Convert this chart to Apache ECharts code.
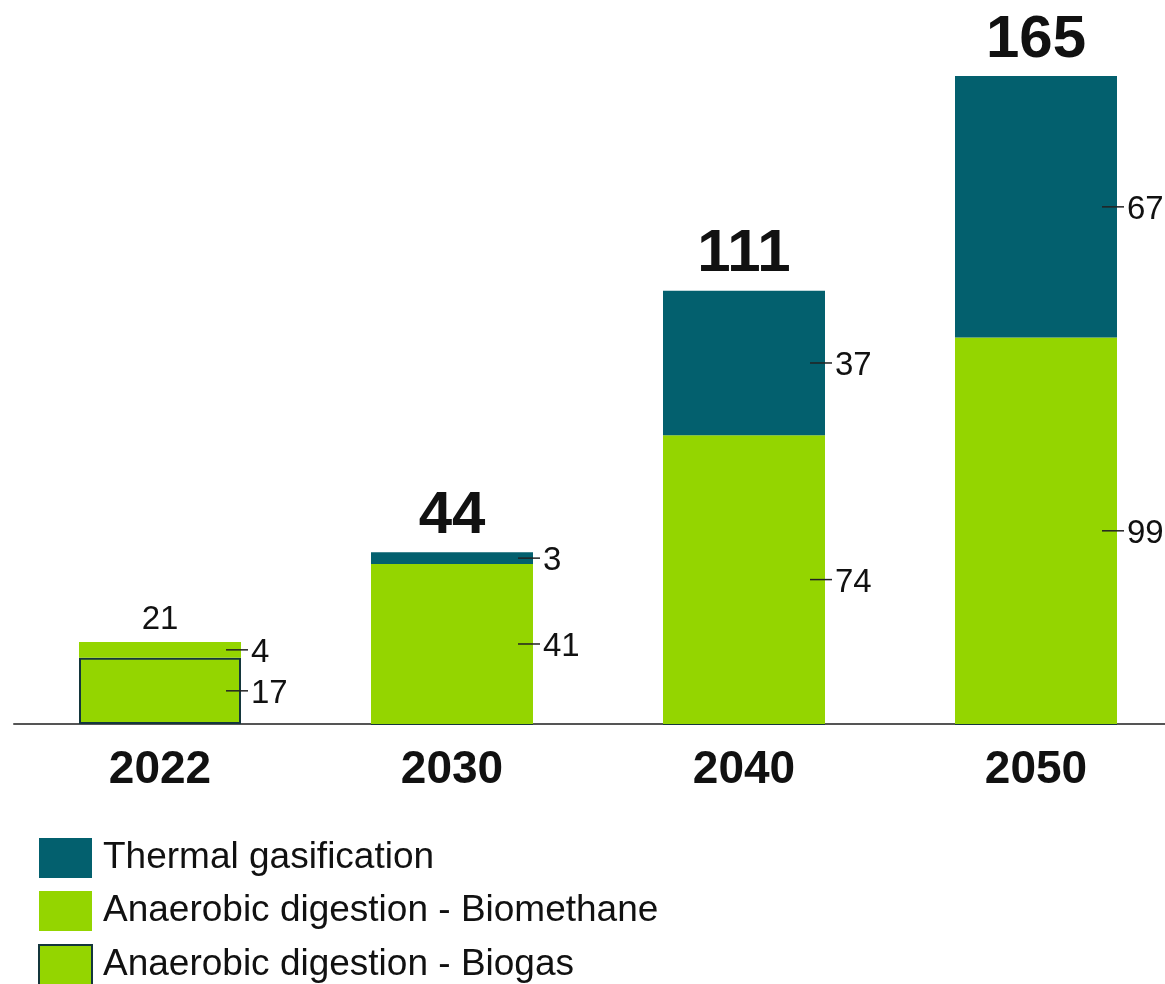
<!DOCTYPE html>
<html>
<head>
<meta charset="utf-8">
<script src="https://cdn.jsdelivr.net/npm/echarts@6/dist/echarts.min.js"></script>
<style>
html,body{margin:0;padding:0;background:#fff;overflow:hidden;}
#chart{width:1182px;height:984px;}
</style>
</head>
<body>
<div id="chart"></div>
<script>
const categories = ['2022', '2030', '2040', '2050'];
const biogas = [17, 0, 0, 0];
const biomethane = [4, 41, 74, 99];
const thermal = [0, 3, 37, 67];
const totals = [21, 44, 111, 165];
const seriesNames = ['Anaerobic digestion - Biogas', 'Anaerobic digestion - Biomethane', 'Thermal gasification'];
const legendOrder = ['Thermal gasification', 'Anaerobic digestion - Biomethane', 'Anaerobic digestion - Biogas'];

const GREEN = '#94D500';
const TEAL = '#03606E';
const BORDER = '#14363C';
const FONT = '"Liberation Sans", Arial, sans-serif';
const BAR_W = 162;

const stacks = [biogas, biomethane, thermal];

// segment label data: [catIndex, start, end, value]
const segData = [];
categories.forEach((c, i) => {
  let run = 0;
  stacks.forEach(arr => {
    const v = arr[i];
    if (v > 0) segData.push([i, run, run + v, v]);
    run += v;
  });
});
const totalData = totals.map((t, i) => [i, stacks.reduce((s, arr) => s + arr[i], 0), t]);

const chart = echarts.init(document.getElementById('chart'), null, {renderer: 'canvas'});
const option = {
  animation: false,
  backgroundColor: '#ffffff',
  grid: {left: 14, right: 0, top: 0, height: 724, containLabel: false},
  xAxis: {
    type: 'category',
    data: categories,
    axisLine: {show: true, lineStyle: {color: '#555555', width: 2}},
    axisTick: {show: false},
    axisLabel: {color: '#111111', fontFamily: FONT, fontWeight: 'bold', fontSize: 46, margin: 23}
  },
  yAxis: {type: 'value', min: 0, max: 185.5, show: false, splitLine: {show: false}},
  legend: {
    orient: 'vertical',
    left: 38,
    top: 838,
    height: 170,
    padding: 0,
    itemWidth: 53,
    itemHeight: 40,
    itemGap: 13,
    icon: 'rect',
    data: legendOrder,
    textStyle: {fontFamily: FONT, fontSize: 37, color: '#111111', padding: [3, 0, 0, 6]}
  },
  series: [
    {
      name: seriesNames[0], type: 'bar', stack: 'total', barWidth: BAR_W, data: biogas,
      itemStyle: {color: GREEN, borderColor: BORDER, borderWidth: 2}
    },
    {
      name: seriesNames[1], type: 'bar', stack: 'total', barWidth: BAR_W, data: biomethane,
      itemStyle: {color: GREEN}
    },
    {
      name: seriesNames[2], type: 'bar', stack: 'total', barWidth: BAR_W, data: thermal,
      itemStyle: {color: TEAL}
    },
    {
      name: 'segLabels', type: 'custom', z: 10, data: segData,
      encode: {x: 0, y: 2},
      renderItem: function (params, api) {
        const i = api.value(0);
        const mid = (api.value(1) + api.value(2)) / 2;
        const p = api.coord([i, mid]);
        const right = p[0] + BAR_W / 2;
        return {
          type: 'group',
          children: [
            {type: 'line', shape: {x1: right - 15, y1: p[1], x2: right + 7, y2: p[1]},
             style: {stroke: '#222222', lineWidth: 1.5}},
            {type: 'text', style: {x: right + 10, y: p[1] + 3, text: String(api.value(3)),
             fontFamily: FONT, fontSize: 33, fill: '#111111', textAlign: 'left', textVerticalAlign: 'middle'}}
          ]
        };
      }
    },
    {
      name: 'totals', type: 'custom', z: 10, data: totalData,
      encode: {x: 0, y: 1},
      renderItem: function (params, api) {
        const i = api.value(0);
        const top = api.value(1);
        const t = api.value(2);
        const p = api.coord([i, top]);
        const big = t >= 30;
        return {
          type: 'text',
          style: {x: p[0], y: big ? p[1] - 6 : p[1] - 6, text: String(t),
            fontFamily: FONT, fontSize: big ? 60 : 33, fontWeight: big ? 'bold' : 'normal',
            fill: '#111111', textAlign: 'center', textVerticalAlign: 'bottom'}
        };
      }
    }
  ]
};
chart.setOption(option);
</script>
</body>
</html>
